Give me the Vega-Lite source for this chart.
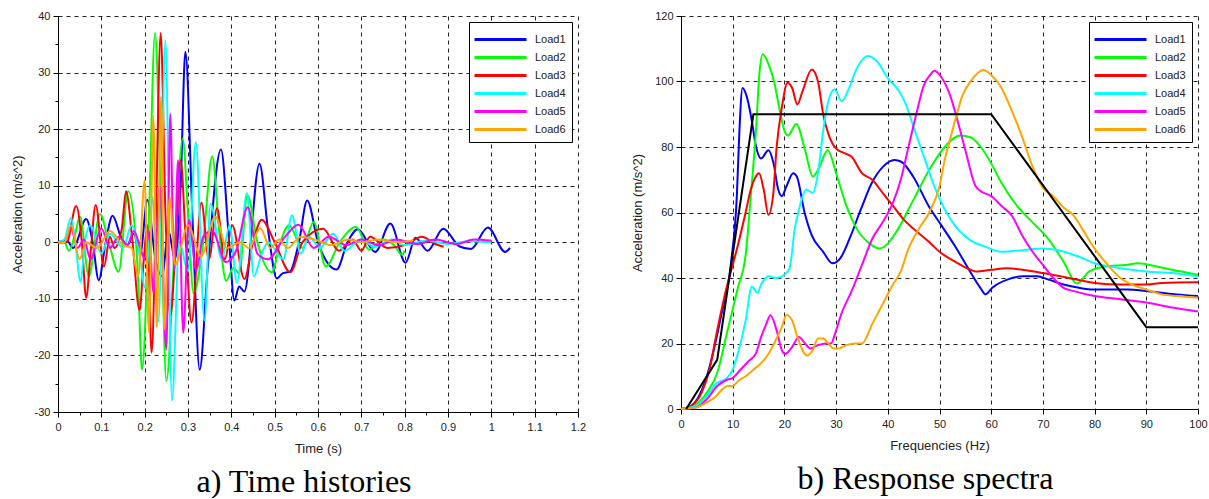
{
  "$schema": "https://vega.github.io/schema/vega-lite/v6.json",
  "padding": {"left": 11, "top": 10, "right": 0, "bottom": 0},
  "bounds": "flush",
  "spacing": 103,
  "config": {
    "view": {"stroke": null},
    "font": "Liberation Sans",
    "axis": {
      "domainColor": "black", "domainWidth": 1, "tickColor": "black", "tickWidth": 1,
      "gridColor": "#222", "gridDash": [4, 4], "gridWidth": 1, "labelOverlap": false,
      "labelFont": "Liberation Sans", "labelFontSize": 11, "labelColor": "#222",
      "titleFont": "Liberation Sans", "titleFontSize": 13, "titleFontWeight": "normal", "titleColor": "#222"
    },
    "legend": {
      "title": null, "orient": "top-right", "offset": 6, "symbolType": "M-2.6,0H2.6", "symbolSize": 400,
      "symbolStrokeWidth": 3, "labelFont": "Liberation Sans", "labelFontSize": 11, "labelColor": "#222",
      "labelExpr": "datum.label + '   '",
      "padding": 6, "rowPadding": 0, "symbolOffset": 14, "labelOffset": 23, "strokeColor": "black", "fillColor": "white"
    }
  },
  "hconcat": [
    {
      "width": 520, "height": 396,
      "title": {"text": "a) Time histories", "orient": "bottom", "anchor": "middle", "frame": "group", "font": "Liberation Serif", "fontSize": 32, "fontWeight": "normal", "color": "black", "offset": 12, "dx": -14},
      "data": {"values": [
        {"load":"Load1","t":0,"a":0},{"load":"Load1","t":0.02,"a":0.3},{"load":"Load1","t":0.035,"a":-1},{"load":"Load1","t":0.065,"a":4.1},{"load":"Load1","t":0.08,"a":0},{"load":"Load1","t":0.094,"a":-6.7},{"load":"Load1","t":0.11,"a":0},{"load":"Load1","t":0.126,"a":4.7},{"load":"Load1","t":0.145,"a":1},{"load":"Load1","t":0.16,"a":-0.5},{"load":"Load1","t":0.175,"a":1.5},{"load":"Load1","t":0.19,"a":-2},{"load":"Load1","t":0.206,"a":7.5},{"load":"Load1","t":0.225,"a":-3},{"load":"Load1","t":0.24,"a":-6},{"load":"Load1","t":0.255,"a":2},{"load":"Load1","t":0.27,"a":-3},{"load":"Load1","t":0.283,"a":10},{"load":"Load1","t":0.294,"a":33.7},{"load":"Load1","t":0.31,"a":5},{"load":"Load1","t":0.327,"a":-22.5},{"load":"Load1","t":0.345,"a":-5},{"load":"Load1","t":0.376,"a":16.4},{"load":"Load1","t":0.395,"a":0},{"load":"Load1","t":0.407,"a":-10.3},{"load":"Load1","t":0.418,"a":-7.8},{"load":"Load1","t":0.43,"a":-8.7},{"load":"Load1","t":0.465,"a":13.9},{"load":"Load1","t":0.485,"a":2},{"load":"Load1","t":0.505,"a":-6.4},{"load":"Load1","t":0.518,"a":-5.5},{"load":"Load1","t":0.535,"a":-5.2},{"load":"Load1","t":0.556,"a":0},{"load":"Load1","t":0.575,"a":7.4},{"load":"Load1","t":0.6,"a":0},{"load":"Load1","t":0.643,"a":-4.8},{"load":"Load1","t":0.668,"a":0},{"load":"Load1","t":0.692,"a":2.3},{"load":"Load1","t":0.732,"a":-1.7},{"load":"Load1","t":0.767,"a":3.3},{"load":"Load1","t":0.802,"a":-3.6},{"load":"Load1","t":0.825,"a":0.8},{"load":"Load1","t":0.853,"a":-1.5},{"load":"Load1","t":0.889,"a":2.4},{"load":"Load1","t":0.926,"a":-0.7},{"load":"Load1","t":0.953,"a":-1.2},{"load":"Load1","t":0.992,"a":2.6},{"load":"Load1","t":1.032,"a":-1.7},{"load":"Load1","t":1.043,"a":-1.0},
        {"load":"Load2","t":0,"a":0},{"load":"Load2","t":0.015,"a":0},{"load":"Load2","t":0.025,"a":-1.5},{"load":"Load2","t":0.038,"a":1},{"load":"Load2","t":0.051,"a":4.5},{"load":"Load2","t":0.071,"a":-6},{"load":"Load2","t":0.097,"a":5},{"load":"Load2","t":0.117,"a":0},{"load":"Load2","t":0.14,"a":-5.2},{"load":"Load2","t":0.162,"a":9},{"load":"Load2","t":0.178,"a":2},{"load":"Load2","t":0.184,"a":-5},{"load":"Load2","t":0.194,"a":-22.5},{"load":"Load2","t":0.21,"a":5},{"load":"Load2","t":0.224,"a":37},{"load":"Load2","t":0.238,"a":5},{"load":"Load2","t":0.25,"a":-24.5},{"load":"Load2","t":0.27,"a":0},{"load":"Load2","t":0.288,"a":18.3},{"load":"Load2","t":0.3,"a":5},{"load":"Load2","t":0.313,"a":-9},{"load":"Load2","t":0.335,"a":0},{"load":"Load2","t":0.356,"a":15.2},{"load":"Load2","t":0.372,"a":2},{"load":"Load2","t":0.388,"a":-6.8},{"load":"Load2","t":0.405,"a":-4.5},{"load":"Load2","t":0.418,"a":-5.5},{"load":"Load2","t":0.437,"a":8.3},{"load":"Load2","t":0.46,"a":0},{"load":"Load2","t":0.493,"a":-5.3},{"load":"Load2","t":0.513,"a":0},{"load":"Load2","t":0.533,"a":3},{"load":"Load2","t":0.564,"a":-1},{"load":"Load2","t":0.59,"a":3.6},{"load":"Load2","t":0.618,"a":-4.3},{"load":"Load2","t":0.65,"a":0},{"load":"Load2","t":0.688,"a":2.7},{"load":"Load2","t":0.718,"a":-1.3},{"load":"Load2","t":0.75,"a":0.5},{"load":"Load2","t":0.775,"a":-0.5},{"load":"Load2","t":0.794,"a":-2.2},{"load":"Load2","t":0.8,"a":-1.5},
        {"load":"Load3","t":0,"a":0},{"load":"Load3","t":0.02,"a":0},{"load":"Load3","t":0.042,"a":6.4},{"load":"Load3","t":0.055,"a":0},{"load":"Load3","t":0.065,"a":-9.8},{"load":"Load3","t":0.075,"a":-2},{"load":"Load3","t":0.087,"a":6.6},{"load":"Load3","t":0.106,"a":-4.3},{"load":"Load3","t":0.12,"a":1},{"load":"Load3","t":0.13,"a":-1},{"load":"Load3","t":0.147,"a":2.3},{"load":"Load3","t":0.157,"a":9},{"load":"Load3","t":0.172,"a":0},{"load":"Load3","t":0.188,"a":-12},{"load":"Load3","t":0.198,"a":-3},{"load":"Load3","t":0.206,"a":3},{"load":"Load3","t":0.216,"a":-19.5},{"load":"Load3","t":0.226,"a":5},{"load":"Load3","t":0.237,"a":37},{"load":"Load3","t":0.248,"a":5},{"load":"Load3","t":0.259,"a":-13},{"load":"Load3","t":0.272,"a":0},{"load":"Load3","t":0.283,"a":14.5},{"load":"Load3","t":0.295,"a":0},{"load":"Load3","t":0.308,"a":-14.2},{"load":"Load3","t":0.331,"a":7},{"load":"Load3","t":0.348,"a":-3},{"load":"Load3","t":0.367,"a":6},{"load":"Load3","t":0.385,"a":-3},{"load":"Load3","t":0.402,"a":3},{"load":"Load3","t":0.43,"a":-6.5},{"load":"Load3","t":0.45,"a":0},{"load":"Load3","t":0.47,"a":4},{"load":"Load3","t":0.5,"a":0},{"load":"Load3","t":0.536,"a":-5.3},{"load":"Load3","t":0.564,"a":0},{"load":"Load3","t":0.612,"a":2.4},{"load":"Load3","t":0.648,"a":-1.5},{"load":"Load3","t":0.68,"a":0.5},{"load":"Load3","t":0.7,"a":-1.5},{"load":"Load3","t":0.72,"a":1},{"load":"Load3","t":0.76,"a":-1},{"load":"Load3","t":0.8,"a":-0.5},{"load":"Load3","t":0.84,"a":1},{"load":"Load3","t":0.87,"a":-0.3},{"load":"Load3","t":0.89,"a":-0.8},
        {"load":"Load4","t":0,"a":0},{"load":"Load4","t":0.015,"a":0.5},{"load":"Load4","t":0.03,"a":4.3},{"load":"Load4","t":0.04,"a":0},{"load":"Load4","t":0.052,"a":-7},{"load":"Load4","t":0.062,"a":0},{"load":"Load4","t":0.075,"a":3},{"load":"Load4","t":0.1,"a":-2},{"load":"Load4","t":0.12,"a":1.5},{"load":"Load4","t":0.15,"a":-1},{"load":"Load4","t":0.17,"a":3},{"load":"Load4","t":0.19,"a":-3},{"load":"Load4","t":0.2,"a":-8},{"load":"Load4","t":0.21,"a":0},{"load":"Load4","t":0.218,"a":8},{"load":"Load4","t":0.232,"a":-14},{"load":"Load4","t":0.248,"a":35.7},{"load":"Load4","t":0.263,"a":-28},{"load":"Load4","t":0.28,"a":0},{"load":"Load4","t":0.3,"a":-5},{"load":"Load4","t":0.318,"a":17.7},{"load":"Load4","t":0.338,"a":-13.8},{"load":"Load4","t":0.352,"a":6.8},{"load":"Load4","t":0.378,"a":-3},{"load":"Load4","t":0.396,"a":3},{"load":"Load4","t":0.413,"a":-7.2},{"load":"Load4","t":0.436,"a":8.7},{"load":"Load4","t":0.452,"a":-6},{"load":"Load4","t":0.47,"a":-2},{"load":"Load4","t":0.485,"a":0},{"load":"Load4","t":0.52,"a":-3},{"load":"Load4","t":0.54,"a":4.8},{"load":"Load4","t":0.56,"a":-2},{"load":"Load4","t":0.58,"a":1},{"load":"Load4","t":0.604,"a":-1},{"load":"Load4","t":0.635,"a":1.5},{"load":"Load4","t":0.661,"a":-1.5},{"load":"Load4","t":0.7,"a":0.5},{"load":"Load4","t":0.73,"a":-0.8},{"load":"Load4","t":0.77,"a":0.5},{"load":"Load4","t":0.8,"a":-0.5},{"load":"Load4","t":0.85,"a":0.3},{"load":"Load4","t":0.9,"a":-0.3},{"load":"Load4","t":0.95,"a":0.2},{"load":"Load4","t":1.0,"a":0},
        {"load":"Load5","t":0,"a":0},{"load":"Load5","t":0.015,"a":0},{"load":"Load5","t":0.03,"a":2.5},{"load":"Load5","t":0.045,"a":-1},{"load":"Load5","t":0.06,"a":0.5},{"load":"Load5","t":0.075,"a":-3},{"load":"Load5","t":0.1,"a":2.5},{"load":"Load5","t":0.12,"a":-1},{"load":"Load5","t":0.14,"a":1},{"load":"Load5","t":0.16,"a":-0.5},{"load":"Load5","t":0.175,"a":2},{"load":"Load5","t":0.19,"a":-1},{"load":"Load5","t":0.2,"a":-3},{"load":"Load5","t":0.21,"a":2},{"load":"Load5","t":0.22,"a":-9},{"load":"Load5","t":0.235,"a":10},{"load":"Load5","t":0.25,"a":-19},{"load":"Load5","t":0.259,"a":22.7},{"load":"Load5","t":0.268,"a":-5},{"load":"Load5","t":0.277,"a":14.5},{"load":"Load5","t":0.289,"a":-16},{"load":"Load5","t":0.302,"a":4},{"load":"Load5","t":0.319,"a":-5},{"load":"Load5","t":0.335,"a":1},{"load":"Load5","t":0.356,"a":2},{"load":"Load5","t":0.387,"a":-3.5},{"load":"Load5","t":0.411,"a":-1.5},{"load":"Load5","t":0.438,"a":6.2},{"load":"Load5","t":0.46,"a":-2},{"load":"Load5","t":0.484,"a":-3},{"load":"Load5","t":0.524,"a":1},{"load":"Load5","t":0.555,"a":3.1},{"load":"Load5","t":0.59,"a":-1},{"load":"Load5","t":0.625,"a":1},{"load":"Load5","t":0.665,"a":-0.5},{"load":"Load5","t":0.7,"a":0.5},{"load":"Load5","t":0.74,"a":-0.5},{"load":"Load5","t":0.78,"a":0.5},{"load":"Load5","t":0.83,"a":-0.3},{"load":"Load5","t":0.87,"a":0.5},{"load":"Load5","t":0.92,"a":-0.3},{"load":"Load5","t":0.96,"a":0.5},{"load":"Load5","t":1.0,"a":0.3},
        {"load":"Load6","t":0,"a":0},{"load":"Load6","t":0.015,"a":0},{"load":"Load6","t":0.03,"a":3},{"load":"Load6","t":0.05,"a":-3},{"load":"Load6","t":0.065,"a":0},{"load":"Load6","t":0.09,"a":-1},{"load":"Load6","t":0.12,"a":2},{"load":"Load6","t":0.15,"a":-0.5},{"load":"Load6","t":0.17,"a":-1},{"load":"Load6","t":0.185,"a":-6},{"load":"Load6","t":0.2,"a":10.9},{"load":"Load6","t":0.21,"a":-16},{"load":"Load6","t":0.22,"a":22.4},{"load":"Load6","t":0.228,"a":-15},{"load":"Load6","t":0.238,"a":25.7},{"load":"Load6","t":0.245,"a":-15.4},{"load":"Load6","t":0.258,"a":8},{"load":"Load6","t":0.27,"a":-4},{"load":"Load6","t":0.3,"a":3},{"load":"Load6","t":0.33,"a":-2.5},{"load":"Load6","t":0.363,"a":4.5},{"load":"Load6","t":0.39,"a":-1},{"load":"Load6","t":0.42,"a":0},{"load":"Load6","t":0.44,"a":-1},{"load":"Load6","t":0.467,"a":2.5},{"load":"Load6","t":0.49,"a":-1},{"load":"Load6","t":0.51,"a":0.5},{"load":"Load6","t":0.53,"a":-1},{"load":"Load6","t":0.56,"a":1},{"load":"Load6","t":0.6,"a":0.3},{"load":"Load6","t":0.63,"a":-0.5},{"load":"Load6","t":0.67,"a":0.5},{"load":"Load6","t":0.7,"a":0},{"load":"Load6","t":0.74,"a":0.5},{"load":"Load6","t":0.78,"a":0},{"load":"Load6","t":0.82,"a":0.3}
      ]},
      "mark": {"type": "line", "interpolate": "monotone", "strokeWidth": 2},
      "encoding": {
        "x": {"field": "t", "type": "quantitative", "title": "Time (s)",
          "scale": {"domain": [0, 1.2], "nice": false, "zero": false},
          "axis": {"values": [0,0.05,0.1,0.15,0.2,0.25,0.3,0.35,0.4,0.45,0.5,0.55,0.6,0.65,0.7,0.75,0.8,0.85,0.9,0.95,1,1.05,1.1,1.15,1.2],
            "labelExpr": "abs(datum.value*10 - round(datum.value*10)) > 0.01 ? '' : toString(datum.value)",
            "tickSize": {"condition": {"test": "abs(datum.value*10 - round(datum.value*10)) > 0.01", "value": 3}, "value": 5},
            "gridOpacity": {"condition": {"test": "abs(datum.value*10 - round(datum.value*10)) > 0.01", "value": 0}, "value": 1},
            "labelOverlap": false, "labelPadding": 4, "titlePadding": 10, "labelFlush": false}},
        "y": {"field": "a", "type": "quantitative", "title": "Acceleration (m/s^2)",
          "scale": {"domain": [-30, 40], "nice": false, "zero": false},
          "axis": {"values": [-30,-25,-20,-15,-10,-5,0,5,10,15,20,25,30,35,40],
            "labelExpr": "datum.value % 10 != 0 ? '' : toString(datum.value)",
            "tickSize": {"condition": {"test": "datum.value % 10 != 0", "value": 3}, "value": 5},
            "gridOpacity": {"condition": {"test": "datum.value % 10 != 0", "value": 0}, "value": 1},
            "labelOverlap": false, "labelPadding": 3, "titlePadding": 10, "labelFlush": false}},
        "color": {"field": "load", "type": "nominal",
          "scale": {"domain": ["Load1","Load2","Load3","Load4","Load5","Load6"], "range": ["#0000ff","#00ff00","#ff0000","#00ffff","#ff00ff","#ffa500"]}}
      }
    },
    {
      "width": 517, "height": 393,
      "title": {"text": "b) Response spectra", "orient": "bottom", "anchor": "middle", "frame": "group", "font": "Liberation Serif", "fontSize": 32, "fontWeight": "normal", "color": "black", "offset": 12, "dx": -14},
      "layer": [
        {
          "data": {"values": [
            {"load":"Load1","f":0,"a":0},{"load":"Load1","f":2,"a":1},{"load":"Load1","f":5,"a":10},{"load":"Load1","f":7.7,"a":28},{"load":"Load1","f":9.7,"a":45},{"load":"Load1","f":10.8,"a":65},{"load":"Load1","f":11.3,"a":85},{"load":"Load1","f":11.9,"a":98},{"load":"Load1","f":12.6,"a":96},{"load":"Load1","f":13.7,"a":88},{"load":"Load1","f":14.4,"a":81},{"load":"Load1","f":15.5,"a":76.5},{"load":"Load1","f":16.9,"a":79},{"load":"Load1","f":17.9,"a":75},{"load":"Load1","f":18.8,"a":67},{"load":"Load1","f":19.5,"a":65},{"load":"Load1","f":20.4,"a":68},{"load":"Load1","f":21.7,"a":72},{"load":"Load1","f":22.4,"a":71},{"load":"Load1","f":23.9,"a":60},{"load":"Load1","f":25.3,"a":53},{"load":"Load1","f":27.5,"a":48},{"load":"Load1","f":29.3,"a":44.5},{"load":"Load1","f":30.8,"a":46},{"load":"Load1","f":32.6,"a":52},{"load":"Load1","f":34.8,"a":61},{"load":"Load1","f":36.9,"a":69},{"load":"Load1","f":39.1,"a":74},{"load":"Load1","f":41.3,"a":76},{"load":"Load1","f":42.6,"a":75.5},{"load":"Load1","f":44.9,"a":71},{"load":"Load1","f":47.9,"a":62},{"load":"Load1","f":50.4,"a":56},{"load":"Load1","f":52.9,"a":50},{"load":"Load1","f":55.9,"a":42},{"load":"Load1","f":57.9,"a":37},{"load":"Load1","f":58.9,"a":35},{"load":"Load1","f":60.2,"a":37},{"load":"Load1","f":63.1,"a":39.5},{"load":"Load1","f":66,"a":40.5},{"load":"Load1","f":68.9,"a":40.5},{"load":"Load1","f":71.1,"a":39.5},{"load":"Load1","f":74,"a":38},{"load":"Load1","f":77,"a":37},{"load":"Load1","f":79.9,"a":36.5},{"load":"Load1","f":82.8,"a":36.5},{"load":"Load1","f":86.4,"a":36.5},{"load":"Load1","f":90,"a":36},{"load":"Load1","f":92.9,"a":35.5},{"load":"Load1","f":95.9,"a":35},{"load":"Load1","f":100,"a":34.5},
            {"load":"Load2","f":0,"a":0},{"load":"Load2","f":3,"a":1.5},{"load":"Load2","f":5,"a":5},{"load":"Load2","f":7,"a":11},{"load":"Load2","f":9,"a":24},{"load":"Load2","f":11,"a":37},{"load":"Load2","f":12.5,"a":47},{"load":"Load2","f":13.5,"a":65},{"load":"Load2","f":14.5,"a":85},{"load":"Load2","f":15.2,"a":103},{"load":"Load2","f":15.8,"a":108.3},{"load":"Load2","f":17,"a":105},{"load":"Load2","f":18,"a":100},{"load":"Load2","f":19,"a":92},{"load":"Load2","f":20,"a":85},{"load":"Load2","f":20.7,"a":83.5},{"load":"Load2","f":22.3,"a":87},{"load":"Load2","f":24,"a":79},{"load":"Load2","f":25.5,"a":71},{"load":"Load2","f":26.5,"a":73},{"load":"Load2","f":28.4,"a":79},{"load":"Load2","f":30,"a":72},{"load":"Load2","f":32,"a":62},{"load":"Load2","f":34,"a":55},{"load":"Load2","f":36.5,"a":50.5},{"load":"Load2","f":38.4,"a":49},{"load":"Load2","f":40,"a":50.5},{"load":"Load2","f":42,"a":55},{"load":"Load2","f":45,"a":64},{"load":"Load2","f":48,"a":73},{"load":"Load2","f":51,"a":80},{"load":"Load2","f":54,"a":83.5},{"load":"Load2","f":56,"a":83},{"load":"Load2","f":58,"a":80},{"load":"Load2","f":60,"a":75},{"load":"Load2","f":62,"a":69},{"load":"Load2","f":65,"a":62},{"load":"Load2","f":68,"a":57},{"load":"Load2","f":71,"a":52},{"load":"Load2","f":74,"a":45},{"load":"Load2","f":76.6,"a":38.3},{"load":"Load2","f":79,"a":42},{"load":"Load2","f":82,"a":43.5},{"load":"Load2","f":86,"a":44},{"load":"Load2","f":88.5,"a":44.5},{"load":"Load2","f":92,"a":43.5},{"load":"Load2","f":95,"a":42.5},{"load":"Load2","f":100,"a":41},
            {"load":"Load3","f":0,"a":0},{"load":"Load3","f":2,"a":1},{"load":"Load3","f":4,"a":5},{"load":"Load3","f":5.5,"a":12},{"load":"Load3","f":7,"a":24},{"load":"Load3","f":8.5,"a":35},{"load":"Load3","f":10,"a":44},{"load":"Load3","f":11,"a":50},{"load":"Load3","f":12.5,"a":60},{"load":"Load3","f":13.5,"a":67},{"load":"Load3","f":14.3,"a":70.5},{"load":"Load3","f":15.1,"a":72},{"load":"Load3","f":16,"a":67},{"load":"Load3","f":16.9,"a":59.3},{"load":"Load3","f":17.8,"a":65},{"load":"Load3","f":18.5,"a":80},{"load":"Load3","f":19.5,"a":92},{"load":"Load3","f":20.6,"a":99.6},{"load":"Load3","f":21.5,"a":98},{"load":"Load3","f":22.5,"a":93},{"load":"Load3","f":23.5,"a":97},{"load":"Load3","f":25.3,"a":103.7},{"load":"Load3","f":26.5,"a":100},{"load":"Load3","f":27.5,"a":90},{"load":"Load3","f":28.5,"a":84},{"load":"Load3","f":30,"a":79.5},{"load":"Load3","f":31.5,"a":78.2},{"load":"Load3","f":33,"a":77},{"load":"Load3","f":35,"a":72},{"load":"Load3","f":37,"a":70},{"load":"Load3","f":39,"a":66},{"load":"Load3","f":41,"a":62},{"load":"Load3","f":43,"a":58},{"load":"Load3","f":45,"a":55},{"load":"Load3","f":48,"a":51},{"load":"Load3","f":50,"a":48},{"load":"Load3","f":53,"a":45},{"load":"Load3","f":56,"a":42.5},{"load":"Load3","f":57,"a":42},{"load":"Load3","f":60,"a":42.5},{"load":"Load3","f":63,"a":43},{"load":"Load3","f":66,"a":42.5},{"load":"Load3","f":70,"a":41.5},{"load":"Load3","f":75,"a":40},{"load":"Load3","f":80,"a":38.5},{"load":"Load3","f":85,"a":38},{"load":"Load3","f":90,"a":38},{"load":"Load3","f":93,"a":38.5},{"load":"Load3","f":100,"a":38.7},
            {"load":"Load4","f":0,"a":0},{"load":"Load4","f":3,"a":1},{"load":"Load4","f":5,"a":4},{"load":"Load4","f":7,"a":8},{"load":"Load4","f":8.5,"a":9},{"load":"Load4","f":10,"a":12},{"load":"Load4","f":11,"a":17},{"load":"Load4","f":12.5,"a":27},{"load":"Load4","f":13.7,"a":37.4},{"load":"Load4","f":14.8,"a":35.5},{"load":"Load4","f":15.5,"a":38},{"load":"Load4","f":17,"a":40.5},{"load":"Load4","f":18.5,"a":40},{"load":"Load4","f":20,"a":41},{"load":"Load4","f":21,"a":43},{"load":"Load4","f":22,"a":55},{"load":"Load4","f":23,"a":62},{"load":"Load4","f":24.2,"a":67},{"load":"Load4","f":25.5,"a":66},{"load":"Load4","f":26.5,"a":72},{"load":"Load4","f":27.5,"a":85},{"load":"Load4","f":28.5,"a":94},{"load":"Load4","f":29.7,"a":97.6},{"load":"Load4","f":31.1,"a":94},{"load":"Load4","f":32.5,"a":98},{"load":"Load4","f":34,"a":104},{"load":"Load4","f":36.2,"a":107.8},{"load":"Load4","f":38,"a":106},{"load":"Load4","f":40,"a":101},{"load":"Load4","f":42,"a":97.5},{"load":"Load4","f":43.5,"a":93},{"load":"Load4","f":45,"a":86},{"load":"Load4","f":47,"a":77},{"load":"Load4","f":49,"a":68},{"load":"Load4","f":51,"a":61},{"load":"Load4","f":53,"a":56},{"load":"Load4","f":56,"a":51.5},{"load":"Load4","f":59,"a":49.5},{"load":"Load4","f":62,"a":48},{"load":"Load4","f":66,"a":48.5},{"load":"Load4","f":70,"a":49},{"load":"Load4","f":73,"a":48.5},{"load":"Load4","f":77,"a":46.5},{"load":"Load4","f":80,"a":44.5},{"load":"Load4","f":85,"a":43},{"load":"Load4","f":90,"a":42},{"load":"Load4","f":95,"a":41.5},{"load":"Load4","f":100,"a":40.5},
            {"load":"Load5","f":0,"a":0},{"load":"Load5","f":3,"a":0.5},{"load":"Load5","f":5,"a":3},{"load":"Load5","f":7,"a":7},{"load":"Load5","f":9,"a":9},{"load":"Load5","f":10,"a":9.5},{"load":"Load5","f":11.5,"a":12},{"load":"Load5","f":13,"a":14.5},{"load":"Load5","f":14.5,"a":17},{"load":"Load5","f":15.5,"a":22},{"load":"Load5","f":16.5,"a":26},{"load":"Load5","f":17.3,"a":28.6},{"load":"Load5","f":18.5,"a":24},{"load":"Load5","f":19.5,"a":18},{"load":"Load5","f":20.2,"a":16.8},{"load":"Load5","f":21.5,"a":19},{"load":"Load5","f":22.8,"a":22},{"load":"Load5","f":24,"a":20},{"load":"Load5","f":25,"a":18.5},{"load":"Load5","f":26.5,"a":19.5},{"load":"Load5","f":28,"a":20},{"load":"Load5","f":29,"a":20},{"load":"Load5","f":30,"a":24},{"load":"Load5","f":31,"a":29},{"load":"Load5","f":33,"a":36},{"load":"Load5","f":35,"a":44},{"load":"Load5","f":37,"a":52},{"load":"Load5","f":39,"a":57},{"load":"Load5","f":41,"a":63},{"load":"Load5","f":42.5,"a":70},{"load":"Load5","f":44,"a":80},{"load":"Load5","f":45.5,"a":90},{"load":"Load5","f":47,"a":99},{"load":"Load5","f":48.2,"a":102},{"load":"Load5","f":49,"a":103.3},{"load":"Load5","f":50.5,"a":101},{"load":"Load5","f":52,"a":96},{"load":"Load5","f":53.5,"a":88},{"load":"Load5","f":55,"a":79},{"load":"Load5","f":57,"a":68},{"load":"Load5","f":58,"a":66.5},{"load":"Load5","f":60,"a":65},{"load":"Load5","f":62,"a":62},{"load":"Load5","f":64,"a":59},{"load":"Load5","f":66,"a":53},{"load":"Load5","f":68,"a":48},{"load":"Load5","f":70,"a":44},{"load":"Load5","f":72,"a":40},{"load":"Load5","f":74,"a":37},{"load":"Load5","f":76,"a":36},{"load":"Load5","f":80,"a":34.5},{"load":"Load5","f":85,"a":33.5},{"load":"Load5","f":90,"a":32.5},{"load":"Load5","f":95,"a":31},{"load":"Load5","f":100,"a":29.8},
            {"load":"Load6","f":0,"a":0},{"load":"Load6","f":3,"a":0.5},{"load":"Load6","f":5,"a":2},{"load":"Load6","f":6.5,"a":3.5},{"load":"Load6","f":8,"a":6},{"load":"Load6","f":9,"a":7},{"load":"Load6","f":10,"a":7},{"load":"Load6","f":11,"a":8.5},{"load":"Load6","f":12.5,"a":10},{"load":"Load6","f":14,"a":12},{"load":"Load6","f":15.5,"a":14},{"load":"Load6","f":17,"a":17},{"load":"Load6","f":18,"a":20},{"load":"Load6","f":19.5,"a":25},{"load":"Load6","f":20.4,"a":28.7},{"load":"Load6","f":21.5,"a":27},{"load":"Load6","f":22.5,"a":22},{"load":"Load6","f":24.4,"a":16.3},{"load":"Load6","f":25.5,"a":18},{"load":"Load6","f":26.5,"a":21.5},{"load":"Load6","f":27.5,"a":21.5},{"load":"Load6","f":28.5,"a":20},{"load":"Load6","f":29.5,"a":18.5},{"load":"Load6","f":30.5,"a":18.5},{"load":"Load6","f":32,"a":19.5},{"load":"Load6","f":33.5,"a":20},{"load":"Load6","f":35,"a":20},{"load":"Load6","f":37,"a":26},{"load":"Load6","f":39,"a":32},{"load":"Load6","f":41,"a":38},{"load":"Load6","f":42.5,"a":42},{"load":"Load6","f":44,"a":49},{"load":"Load6","f":46,"a":55},{"load":"Load6","f":48,"a":60},{"load":"Load6","f":50,"a":68},{"load":"Load6","f":51,"a":76},{"load":"Load6","f":52,"a":82},{"load":"Load6","f":53,"a":88},{"load":"Load6","f":54.5,"a":96},{"load":"Load6","f":56,"a":100},{"load":"Load6","f":58.5,"a":103.5},{"load":"Load6","f":60,"a":102},{"load":"Load6","f":62,"a":98},{"load":"Load6","f":64,"a":91},{"load":"Load6","f":66,"a":83},{"load":"Load6","f":68,"a":74},{"load":"Load6","f":70,"a":67.5},{"load":"Load6","f":72,"a":65},{"load":"Load6","f":74,"a":61.5},{"load":"Load6","f":76,"a":59},{"load":"Load6","f":78,"a":54},{"load":"Load6","f":80,"a":49},{"load":"Load6","f":82,"a":45},{"load":"Load6","f":85,"a":40},{"load":"Load6","f":88,"a":37.5},{"load":"Load6","f":90,"a":36.5},{"load":"Load6","f":93,"a":35},{"load":"Load6","f":96,"a":34.5},{"load":"Load6","f":100,"a":34}
          ]},
          "mark": {"type": "line", "interpolate": "monotone", "strokeWidth": 2},
          "encoding": {
            "x": {"field": "f", "type": "quantitative", "title": "Frequencies (Hz)",
              "scale": {"domain": [0, 100], "nice": false, "zero": false},
              "axis": {"values": [0,5,10,15,20,25,30,35,40,45,50,55,60,65,70,75,80,85,90,95,100],
                "labelExpr": "datum.value % 10 != 0 ? '' : toString(datum.value)",
                "tickSize": {"condition": {"test": "datum.value % 10 != 0", "value": 3}, "value": 5},
                "gridOpacity": {"condition": {"test": "datum.value % 10 != 0", "value": 0}, "value": 1},
                "labelOverlap": false, "labelPadding": 4, "titlePadding": 10, "labelFlush": false}},
            "y": {"field": "a", "type": "quantitative", "title": "Acceleration (m/s^2)",
              "scale": {"domain": [0, 120], "nice": false, "zero": false},
              "axis": {"values": [0,5,10,15,20,25,30,35,40,45,50,55,60,65,70,75,80,85,90,95,100,105,110,115,120],
                "labelExpr": "datum.value % 10 != 0 ? '' : toString(datum.value)",
                "tickSize": {"condition": {"test": "datum.value % 10 != 0", "value": 3}, "value": 5},
                "gridOpacity": {"condition": {"test": "datum.value % 10 != 0", "value": 0}, "value": 1},
                "labelOverlap": false, "labelPadding": 3, "titlePadding": 10, "labelFlush": false}},
            "color": {"field": "load", "type": "nominal",
              "scale": {"domain": ["Load1","Load2","Load3","Load4","Load5","Load6"], "range": ["#0000ff","#00ff00","#ff0000","#00ffff","#ff00ff","#ffa500"]}}
          }
        },
        {
          "data": {"values": [
            {"f":1,"a":0},{"f":7,"a":15},{"f":14,"a":90},{"f":60,"a":90},{"f":90,"a":25},{"f":100,"a":25}
          ]},
          "mark": {"type": "line", "color": "black", "strokeWidth": 2},
          "encoding": {
            "x": {"field": "f", "type": "quantitative"},
            "y": {"field": "a", "type": "quantitative"}
          }
        }
      ]
    }
  ],
  "resolve": {"scale": {"color": "independent"}}
}
